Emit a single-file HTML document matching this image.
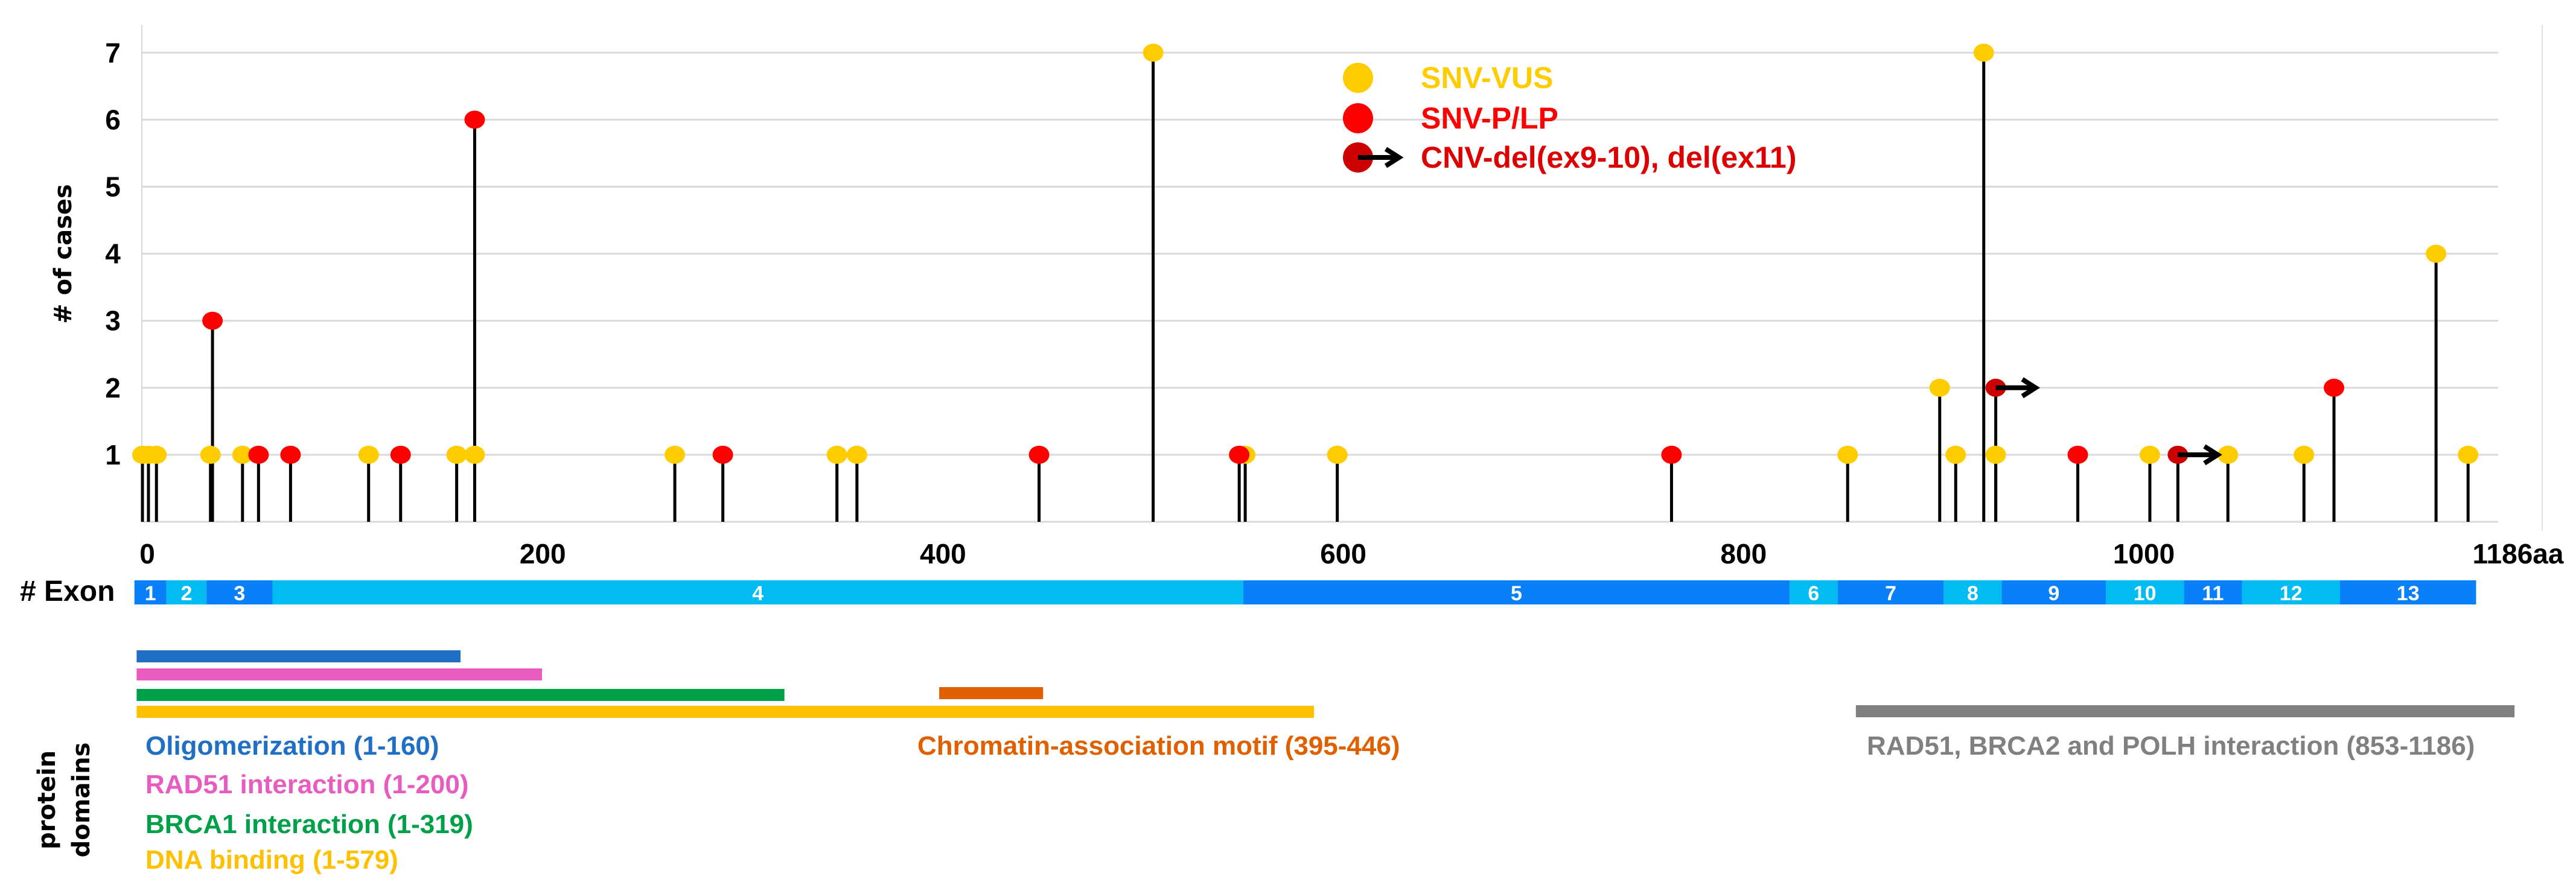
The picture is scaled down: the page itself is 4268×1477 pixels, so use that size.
<!DOCTYPE html>
<html><head><meta charset="utf-8"><style>
html,body{margin:0;padding:0;background:#fff;}
svg{display:block;}
text{font-family:"Liberation Sans Narrow","Liberation Sans",sans-serif;font-weight:bold;}
</style></head><body>
<svg id="chart" width="4268" height="1477" viewBox="0 0 4268 1477" xmlns="http://www.w3.org/2000/svg"></svg>
<script>
const yellowPos=[0,3,7,34,50,113,157,166,266,347,357,505,551,597,852,898,906,920,926,1003,1042,1080,1146,1162];
const yellowCnt=[1,1,1,1,1,1,1,1,1,1,1,7,1,1,1,2,1,7,1,1,1,1,4,1];
const redPos=[35,58,74,129,166,290,448,548,764,967,1095];
const redCnt=[3,1,1,1,6,1,1,1,1,1,2];
const cnvPos=[926,1017];
const cnvCnt=[2,1];
const yTicks=[1,2,3,4,5,6,7];
const xTicks=[0,200,400,600,800,1000];
const exonStarts=[-4,12,32,65,550,823,847,900,929,981,1020,1049,1098];
const exonEnds=[12,32,65,550,823,847,900,929,981,1020,1049,1098,1166];
const exonLabels=["1","2","3","4","5","6","7","8","9","10","11","12","13"];
const domainNames=["Oligomerization (1-160)","RAD51 interaction (1-200)","BRCA1 interaction (1-319)","DNA binding (1-579)","Chromatin-association motif (395-446)","RAD51, BRCA2 and POLH interaction (853-1186)"];
const domainStart=[1,1,1,1,395,853];
const domainEnd=[160,200,319,579,446,1186];

const NS="http://www.w3.org/2000/svg";
const svg=document.getElementById('chart');
function X(a){return 236+a*3.316;}
function Y(v){return 865-v*111.1;}
function DX(a){return a<=579 ? 223+a*3.375 : 2177+(a-579)*3.277;}
function mk(tag,attrs,parent){const e=document.createElementNS(NS,tag);for(const k in attrs)e.setAttribute(k,attrs[k]);(parent||svg).appendChild(e);return e;}

let g=mk('line',{x1:235,y1:41,x2:235,y2:865,stroke:'#d9d9d9','stroke-width':2});


g=mk('line',{x1:4212,y1:41,x2:4212,y2:880,stroke:'#e4e4e4','stroke-width':2});


g=mk('line',{x1:235,y1:Y(0),x2:4139,y2:Y(0),stroke:'#d9d9d9','stroke-width':3});


yTicks.forEach(v=>{
  const l=mk('line',{x1:235,y1:Y(v),x2:4139,y2:Y(v),stroke:'#d9d9d9','stroke-width':3});
  
  
  const t=mk('text',{x:187,y:Y(v)+16,'text-anchor':'middle','font-size':46,fill:'#000'});
  t.textContent=v;
  
  
});
xTicks.forEach(v=>{
  const t=mk('text',{x:X(v)+(v===0?8:0),y:934,'text-anchor':'middle','font-size':46,fill:'#000'});
  t.textContent=v;
  
  
});
let t=mk('text',{x:4172,y:934,'text-anchor':'middle','font-size':46,fill:'#000'});
t.textContent='1186aa';


t=mk('text',{x:0,y:0,'text-anchor':'middle','font-size':40,fill:'#000',transform:'translate(118,421) rotate(-90)','style':'font-family:"DejaVu Sans",sans-serif'});
t.textContent='# of cases';



function stems(pos,cnt,name){
  pos.forEach((p,i)=>{
    const l=mk('line',{x1:X(p),y1:Y(0),x2:X(p),y2:Y(cnt[i]),stroke:'#000','stroke-width':5});
    
    
  });
}
stems(yellowPos,yellowCnt,'vus');
stems(redPos,redCnt,'plp');
stems(cnvPos,cnvCnt,'cnv');
function dots(pos,cnt,color,name){
  pos.forEach((p,i)=>{
    const c=mk('ellipse',{cx:X(p),cy:Y(cnt[i]),rx:17,ry:15,fill:color});
    
    
  });
}
dots(yellowPos,yellowCnt,'#ffcc00','vus');
dots(redPos,redCnt,'#ff0000','plp');
dots(cnvPos,cnvCnt,'#cc0000','cnv');
function arrow(x1,y,x2,name){
  const p=mk('path',{d:`M${x1},${y} L${x2-4},${y} M${x2-22},${y-14} L${x2},${y} L${x2-22},${y+14}`,stroke:'#000','stroke-width':8,fill:'none'});
  
  
}
cnvPos.forEach((p,i)=>arrow(X(p),Y(cnvCnt[i]),X(p)+66,'cnv-arrow'));

const legY=[129,196,261];const legC=['#ffcc00','#ff0000','#cc0000'];
const legT=['SNV-VUS','SNV-P/LP','CNV-del(ex9-10), del(ex11)'];
const legTC=['#ffcc00','#ff0000','#dd0000'];
legY.forEach((y,i)=>{
  const c=mk('ellipse',{cx:2250,cy:y,rx:25,ry:25,fill:legC[i]});
  
  
  const tt=mk('text',{x:2354,y:y+17,'font-size':50,fill:legTC[i]});
  tt.textContent=legT[i];
  
  
});
arrow(2250,261,2318,'legend-arrow');

t=mk('text',{x:33,y:996,'font-size':48,fill:'#000','font-weight':'normal'});
t.textContent='# Exon';


exonStarts.forEach((s,i)=>{
  const r=mk('rect',{x:X(s),y:962,width:X(exonEnds[i])-X(s),height:40,fill:i%2===0?'#0a80f8':'#00bcf2'});
  
  
  const tt=mk('text',{x:(X(s)+X(exonEnds[i]))/2,y:995,'text-anchor':'middle','font-size':34,fill:'#fff','font-weight':'normal'});
  tt.textContent=exonLabels[i];
  
  
});

const domY=[1078,1108,1142,1170,1139,1169];
const domC=['#1f6fc5','#e85cbf','#00a04a','#ffc000','#e06000','#808080'];
const labX=[241,241,241,241,1520,3093];
const labY=[1236,1300,1366,1425,1236,1236];
domainStart.forEach((s,i)=>{
  const r=mk('rect',{x:DX(s),y:domY[i],width:DX(domainEnd[i])-DX(s),height:20,fill:domC[i]});
  
  
  const tt=mk('text',{x:labX[i],y:labY[i]+15,'font-size':44,fill:domC[i]});
  tt.textContent=domainNames[i];
  
  
});
t=mk('text',{x:0,y:0,'text-anchor':'middle','font-size':40,fill:'#000',transform:'translate(91,1326) rotate(-90)','style':'font-family:"DejaVu Sans",sans-serif'});
t.textContent='protein';


t=mk('text',{x:0,y:0,'text-anchor':'middle','font-size':40,fill:'#000',transform:'translate(148,1326) rotate(-90)','style':'font-family:"DejaVu Sans",sans-serif'});
t.textContent='domains';


</script>
</body></html>
